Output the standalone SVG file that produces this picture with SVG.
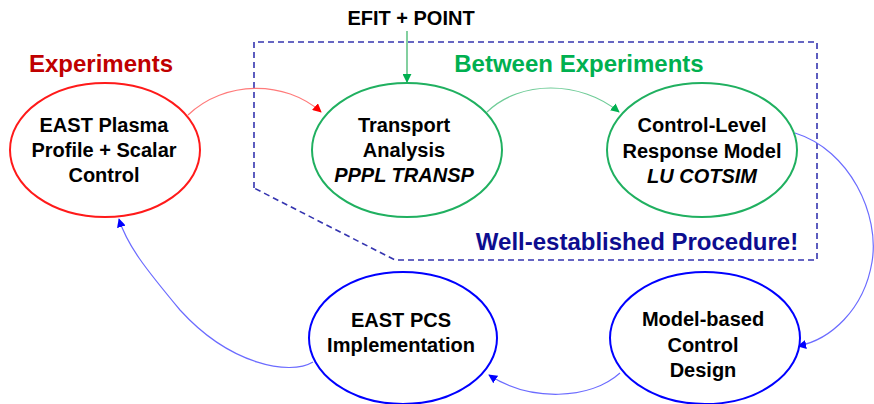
<svg xmlns="http://www.w3.org/2000/svg" width="874" height="404" viewBox="0 0 874 404">
<style>
text{font-family:"Liberation Sans",Arial,sans-serif;font-weight:bold;text-anchor:middle}
.lbl{font-size:20px;fill:#000}
.it{font-style:italic}
.ttl{font-size:24px}
.node{fill:#fff;stroke-width:2}
.conn{fill:none;stroke-width:1.2}
</style>
<defs>
<marker id="ar" viewBox="0 0 10 10" refX="9" refY="5" markerWidth="9" markerHeight="9" markerUnits="userSpaceOnUse" orient="auto"><path d="M0,0 L10,5 L0,10 z" fill="#ff0000"/></marker>
<marker id="ag" viewBox="0 0 10 10" refX="9" refY="5" markerWidth="9" markerHeight="9" markerUnits="userSpaceOnUse" orient="auto"><path d="M0,0 L10,5 L0,10 z" fill="#00b050"/></marker>
<marker id="ab" viewBox="0 0 10 10" refX="9" refY="5" markerWidth="9" markerHeight="9" markerUnits="userSpaceOnUse" orient="auto"><path d="M0,0 L10,5 L0,10 z" fill="#0000ff"/></marker>
</defs>
<rect width="874" height="404" fill="#fff"/>
<path d="M254,188 L254,42 L817,42 L817,260 L395,260 Z" fill="none" stroke="#3535b0" stroke-width="1.6" stroke-dasharray="6,4"/>
<text x="101" y="72" class="ttl" style="fill:#c00000">Experiments</text>
<text x="579" y="72" class="ttl" style="fill:#00b050">Between Experiments</text>
<text x="637" y="250" class="ttl" style="fill:#0d0d8f">Well-established Procedure!</text>
<text x="411" y="25" class="lbl">EFIT + POINT</text>
<g id="connectors">
<path class="conn" d="M188,115 C225,80 285,80 321,112" stroke="#ff7a7a" marker-end="url(#ar)"/>
<path class="conn" d="M407,31 L407,82" stroke="#30b060" marker-end="url(#ag)"/>
<path class="conn" d="M487,112 C520,80 580,80 619,112" stroke="#70cc98" marker-end="url(#ag)"/>
<path class="conn" d="M795,133 C850,150 880,215 872,262 C864,310 830,340 798,346" stroke="#6b6bff" marker-end="url(#ab)"/>
<path class="conn" d="M620,373 C590,400 530,402 489,375" stroke="#6b6bff" marker-end="url(#ab)"/>
<path class="conn" d="M313,362 C290,376 230,365 180,310 C145,268 127,245 119,219" stroke="#6b6bff" marker-end="url(#ab)"/>
</g>
<g id="n-experiments">
<ellipse class="node" cx="105" cy="150" rx="95" ry="67" stroke="#ff1a1a"/>
<text class="lbl" x="104" y="132">EAST Plasma</text>
<text class="lbl" x="104" y="157">Profile + Scalar</text>
<text class="lbl" x="104" y="182">Control</text>
</g>
<g id="n-transport">
<ellipse class="node" cx="407" cy="150" rx="95" ry="67" stroke="#20b060"/>
<text class="lbl" x="404" y="132">Transport</text>
<text class="lbl" x="404" y="157">Analysis</text>
<text class="lbl it" x="404" y="182">PPPL TRANSP</text>
</g>
<g id="n-response">
<ellipse class="node" cx="702" cy="150" rx="95" ry="67" stroke="#20b060"/>
<text class="lbl" x="702" y="132">Control-Level</text>
<text class="lbl" x="702" y="158">Response Model</text>
<text class="lbl it" x="702" y="183">LU COTSIM</text>
</g>
<g id="n-pcs">
<ellipse class="node" cx="403" cy="338" rx="94" ry="66" stroke="#0000ff"/>
<text class="lbl" x="401" y="327">EAST PCS</text>
<text class="lbl" x="401" y="352">Implementation</text>
</g>
<g id="n-design">
<ellipse class="node" cx="705" cy="338" rx="95" ry="66" stroke="#0000ff"/>
<text class="lbl" x="703" y="326">Model-based</text>
<text class="lbl" x="703" y="352">Control</text>
<text class="lbl" x="703" y="377">Design</text>
</g>
</svg>
